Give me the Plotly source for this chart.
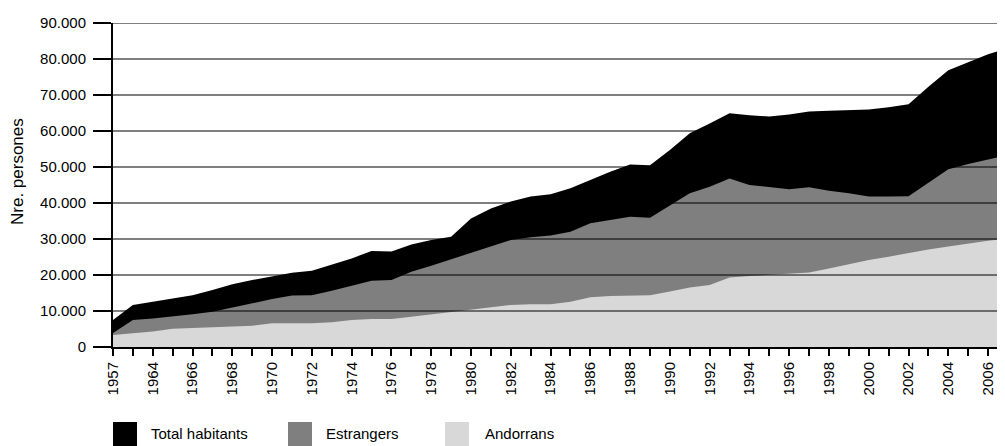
import plotly.graph_objects as go

years = ["1957", "1963", "1964", "1965", "1966", "1967", "1968", "1969", "1970", "1971",
         "1972", "1973", "1974", "1975", "1976", "1977", "1978", "1979", "1980", "1981",
         "1982", "1983", "1984", "1985", "1986", "1987", "1988", "1989", "1990", "1991",
         "1992", "1993", "1994", "1995", "1996", "1997", "1998", "1999", "2000", "2001",
         "2002", "2003", "2004", "2005", "2006", "2007"]

total_habitants = [7500, 11700, 12600, 13500, 14400, 15800, 17400, 18600, 19700, 20600,
                   21200, 22800, 24600, 26700, 26500, 28500, 29700, 30600, 35700, 38500,
                   40400, 41800, 42400, 44100, 46400, 48700, 50700, 50500, 54700, 59400,
                   62100, 64900, 64400, 64000, 64600, 65400, 65600, 65800, 66000, 66600,
                   67400, 72300, 76900, 79100, 81300, 83000]

estrangers = [3900, 7500, 7900, 8400, 9100, 9800, 11000, 12100, 13300, 14300,
              14400, 15600, 17000, 18400, 18600, 20900, 22600, 24400, 26000, 27900,
              29700, 30500, 31000, 32000, 34400, 35300, 36200, 35900, 39200, 42700,
              44500, 46800, 45000, 44400, 43800, 44400, 43400, 42700, 41800, 41800,
              41900, 45600, 49400, 50800, 52100, 53300]

andorrans = [3300, 3700, 4300, 5100, 5300, 5600, 5800, 5900, 6600, 6600,
             6600, 6900, 7500, 7800, 7800, 8400, 9100, 9700, 10300, 11000,
             11700, 11900, 11900, 12600, 13800, 14200, 14300, 14400, 15400, 16500,
             17200, 19300, 19700, 20100, 20500, 20700, 21800, 23000, 24200, 25100,
             26200, 27100, 27900, 28800, 29500, 30200]

series_names = ["Total habitants", "Estrangers", "Andorrans"]
series_colors = ["#000000", "#7f7f7f", "#d8d8d8"]
y_ticks = [0, 10000, 20000, 30000, 40000, 50000, 60000, 70000, 80000, 90000]
x_ticktext = [y if i % 2 == 0 else "" for i, y in enumerate(years)]

# page has an 8px body margin; size the figure so that it fills the window
OFF = 8
W, H = 1005 - OFF, 446 - OFF
L, R, T, B = 113 - OFF, 0, 23 - OFF, 99
pw, ph = W - L - R, H - T - B

def px_x(p):  # page pixel -> paper x
    return (p - OFF - L) / pw

def px_y(p):  # page pixel -> paper y
    return (H - B - (p - OFF)) / ph

fig = go.Figure()
for name, vals, col in zip(series_names, [total_habitants, estrangers, andorrans], series_colors):
    fig.add_trace(go.Scatter(x=years, y=vals, name=name, mode="lines",
                             fill="tozeroy", fillcolor=col,
                             line=dict(width=0, color=col), showlegend=False,
                             hoverinfo="x+y+name"))

shapes = []
for v in y_ticks[1:]:
    shapes.append(dict(type="line", xref="paper", yref="y", x0=0, x1=1, y0=v, y1=v,
                       line=dict(color="#000000", width=1.2), layer="above"))

legend_box_x = [113, 288, 445]
legend_text_x = [149, 324, 483]
annotations = []
for name, col, bx, tx in zip(series_names, series_colors, legend_box_x, legend_text_x):
    shapes.append(dict(type="rect", xref="paper", yref="paper",
                       x0=px_x(bx), x1=px_x(bx + 24), y0=px_y(422), y1=px_y(446),
                       fillcolor=col, line=dict(width=0), layer="above"))
    annotations.append(dict(text=name, xref="paper", yref="paper", x=px_x(tx), y=px_y(433),
                            xanchor="left", yanchor="middle", showarrow=False,
                            font=dict(size=15, color="#000000")))

annotations.append(dict(text="Nre. persones", xref="paper", yref="paper",
                        x=px_x(17), y=px_y(172), xanchor="center", yanchor="middle",
                        textangle=-90, showarrow=False,
                        font=dict(size=17, color="#000000")))

fig.update_layout(
    width=W, height=H,
    margin=dict(l=L, r=R, t=T, b=B, autoexpand=False),
    paper_bgcolor="white", plot_bgcolor="white",
    font=dict(family="Liberation Sans, Arial, sans-serif", size=15, color="#000000"),
    separators=",.",
    shapes=shapes, annotations=annotations,
    showlegend=False,
)
fig.update_xaxes(
    type="category", range=[0, 44.85], automargin=False,
    tickmode="array", tickvals=years, ticktext=x_ticktext,
    tickangle=-90, ticks="outside", ticklen=7, tickwidth=2, tickcolor="#000000",
    showline=True, linecolor="#000000", linewidth=2,
    showgrid=False, zeroline=False, layer="above traces",
    tickfont=dict(size=15),
)
fig.update_yaxes(
    range=[0, 90000], tickmode="array", tickvals=y_ticks, tickformat=",d",
    automargin=False, ticklabelstandoff=4,
    ticks="outside", ticklen=18, tickwidth=2, tickcolor="#000000",
    showline=True, linecolor="#000000", linewidth=2,
    showgrid=False, zeroline=False, layer="above traces",
    tickfont=dict(size=15),
)

fig.write_html("out.html")
